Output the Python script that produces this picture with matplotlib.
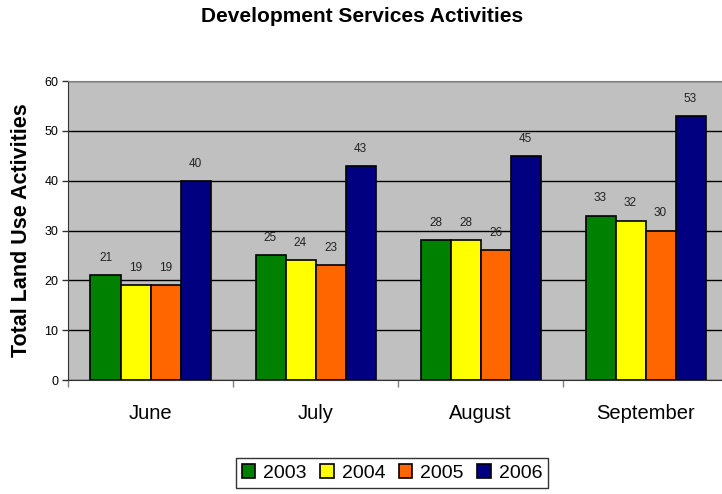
import matplotlib
matplotlib.use("Agg")
import matplotlib.pyplot as plt
import numpy as np

plt.rcParams['font.family'] = ['Liberation Sans', 'DejaVu Sans']

categories = ["June", "July", "August", "September"]
years = ["2003", "2004", "2005", "2006"]
values = {
    "2003": [21, 25, 28, 33],
    "2004": [19, 24, 28, 32],
    "2005": [19, 23, 26, 30],
    "2006": [40, 43, 45, 53],
}
colors = ["#008000", "#FFFF00", "#FF6600", "#000080"]

fig = plt.figure(figsize=(7.22, 4.94), dpi=100)
ax = fig.add_axes([68/722, 114/494, 660/722, 299/494])
ax.set_facecolor("#C0C0C0")

x = np.arange(len(categories))
bw = 30/165
for i, (yr, c) in enumerate(zip(years, colors)):
    pos = x + (i - 1.5) * bw
    ax.bar(pos, values[yr], bw, color=c, edgecolor="black", linewidth=1.2, label=yr, zorder=3)
    for p, v in zip(pos, values[yr]):
        ax.annotate(str(v), (p, v), xytext=(0, 8), textcoords="offset points",
                    ha="center", va="bottom", fontsize=8.5, color="#222222")

ax.set_xlim(-0.5, len(categories) - 0.5)
ax.set_ylim(0, 60)
ax.set_yticks(range(0, 61, 10))
ax.yaxis.grid(True, color="black", linewidth=1, zorder=1)
ax.set_axisbelow(True)
ax.tick_params(axis="y", labelsize=9, length=4, width=1, color="#333333", pad=3)
ax.set_xticks(x)
ax.set_xticklabels(categories, fontsize=14.5)
ax.tick_params(axis="x", length=0, pad=17)
ax.set_xticks(np.arange(-0.5, len(categories) + 0.5, 1), minor=True)
ax.tick_params(axis="x", which="minor", length=5, width=1, color="#808080")
for s in ["top", "right"]:
    ax.spines[s].set_color("#808080")
ax.spines["left"].set_color("#333333")
ax.spines["bottom"].set_color("#333333")

fig.text(22/722, 1 - 230/494, "Total Land Use Activities", ha="center", va="center",
         rotation=90, fontsize=15.5, fontweight="bold")
fig.text(362/722, 1 - 17/494, "Development Services Activities", ha="center", va="center",
         fontsize=15, fontweight="bold")

leg = fig.legend(loc="center", bbox_to_anchor=(392/722, 1 - 473/494), ncol=4, fontsize=14,
                 frameon=True, fancybox=False, edgecolor="black", handlelength=0.7, handleheight=0.7,
                 handletextpad=0.4, columnspacing=0.7, borderpad=0.3)
leg.get_frame().set_linewidth(1)

fig.savefig("out.png", dpi=100)
